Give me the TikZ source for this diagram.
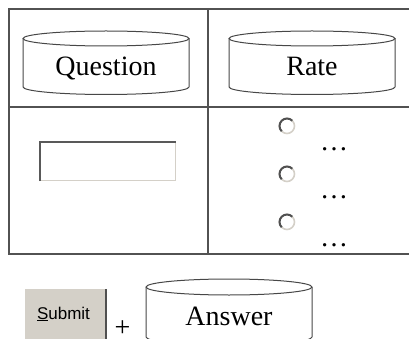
\documentclass[tikz,border=0pt]{standalone}
\usepackage{fontspec}
\setmainfont{Liberation Serif}
\newfontfamily\uifont{Liberation Sans}
\definecolor{btnface}{HTML}{D4D0C8}
\definecolor{btnshadow}{HTML}{505050}
% database drum: centre x, top-ellipse centre y, side length, x radius, y radius, name
\newcommand\dbdrum[6]{%
  \draw[drum] (#1-#4,#2) -- ++(0,#3)
    arc[start angle=180,end angle=0,x radius=#4,y radius=#5] -- ++(0,-#3);
  \draw[drum] (#1,#2) ellipse[x radius=#4,y radius=#5];
  \coordinate (#6) at (#1,#2+#3);}
% windows-style radio button
\newcommand\radiobtn[2]{%
  \coordinate (#2) at #1;
  \draw[btnface, line width=1.6pt] (#2) circle[radius=7.5];
  \draw[btnshadow, line width=2pt] (#2) ++(135:7.5) arc[start angle=135,end angle=315,radius=7.5];}
\begin{document}
\begin{tikzpicture}[x=1pt,y=-1pt,
  gridline/.style={draw=black!68, line width=1.4pt},
  drum/.style={draw=black!72, line width=1pt, fill=white},
  bigtext/.style={font=\fontsize{28}{30}\selectfont, anchor=base, inner sep=0pt},
  uitext/.style={font=\uifont\fontsize{17}{19}\selectfont, anchor=base, inner sep=0pt}]
\useasboundingbox (0,0) rectangle (409,339);
\clip (0,0) rectangle (409,339);

% table grid
\draw[gridline] (430,9) -- (9,9) -- (9,254) -- (430,254);
\draw[gridline] (208,9) -- (208,254);
\draw[gridline] (9,107) -- (430,107);

% header drums
\dbdrum{106}{38.5}{48.5}{83}{7.5}{qbase}
\node[bigtext] (question) at (106,76) {Question};
\dbdrum{312}{38.5}{48.5}{83}{7.5}{rbase}
\node[bigtext] (rate) at (312,76) {Rate};

% text field
\fill[white] (39,141) rectangle (176,181);
\draw[btnface, line width=1.5pt] (39.5,180.5) -- (175.5,180.5) -- (175.5,141.5);
\draw[black!65, line width=2.4pt] (40.2,181) -- (40.2,142.2) -- (176,142.2);
\coordinate (qfield) at (107.5,161);

% radio options
\radiobtn{(287,126)}{opt1}
\radiobtn{(287,174)}{opt2}
\radiobtn{(287,222)}{opt3}
\node[bigtext] (dots1) at (334,150) {…};
\node[bigtext] (dots2) at (334,198) {…};
\node[bigtext] (dots3) at (334,246) {…};

% submit button
\fill[btnface] (25,289) rectangle (105,345);
\draw[btnshadow, line width=2pt] (106,289) -- (106,345);
\node[uitext] (submit) at (63.5,319) {\underline{S}ubmit};

\node[bigtext] (plus) at (122.5,336) {+};

% answer drum
\dbdrum{229}{287}{50}{83}{8}{abase}
\node[bigtext] (answer) at (229,325) {Answer};
\end{tikzpicture}
\end{document}
